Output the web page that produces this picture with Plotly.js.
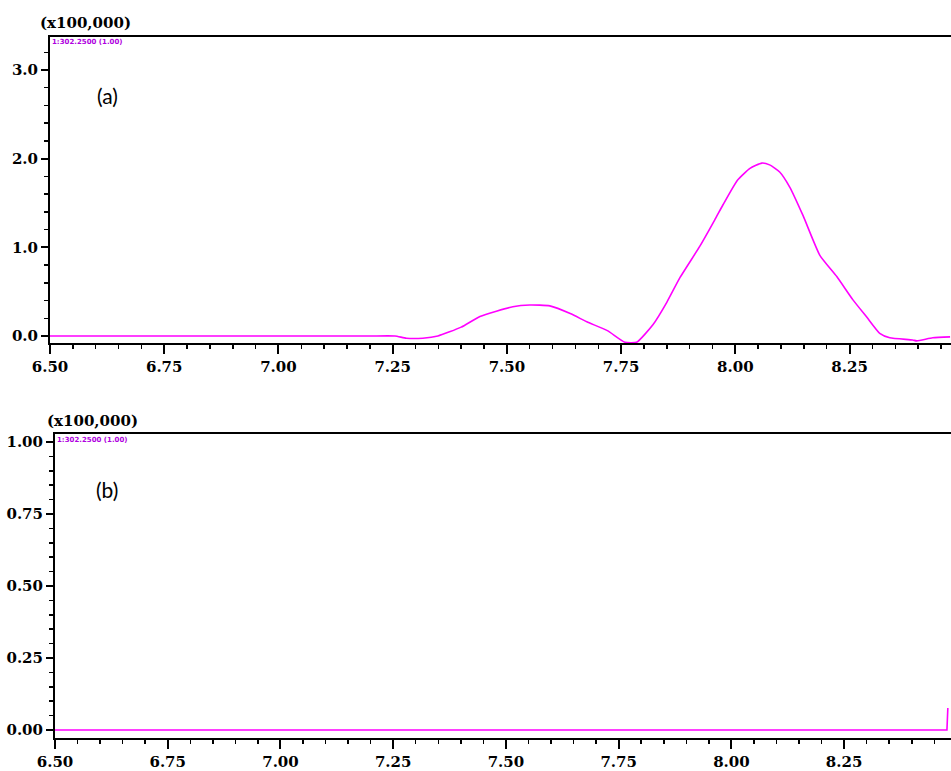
<!DOCTYPE html>
<html>
<head>
<meta charset="utf-8">
<script src="https://cdn.plot.ly/plotly-3.0.1.min.js"></script>
<style>html,body{margin:0;padding:0;background:#fff;}#chart{width:951px;height:771px;}</style>
</head>
<body>
<div id="chart"></div>
<script>
// Panel (a) trace: retention time (min) vs intensity (x100,000)
const timeA = [6.50, 7.00, 7.20, 7.255, 7.28, 7.316, 7.349, 7.40, 7.441, 7.513, 7.55, 7.594, 7.64, 7.675, 7.72, 7.758, 7.784, 7.82, 7.85, 7.879, 7.922, 7.955, 7.973, 8.005, 8.032, 8.058, 8.075, 8.097, 8.119, 8.148, 8.185, 8.222, 8.257, 8.288, 8.316, 8.338, 8.388, 8.397, 8.432, 8.47];
const intA  = [0.00, 0.00, 0.00, 0.00, -0.025, -0.025, 0.00, 0.10, 0.22, 0.33, 0.35, 0.34, 0.25, 0.16, 0.06, -0.07, -0.07, 0.13, 0.38, 0.66, 1.01, 1.31, 1.48, 1.76, 1.89, 1.95, 1.93, 1.85, 1.68, 1.36, 0.91, 0.67, 0.41, 0.21, 0.03, -0.02, -0.045, -0.055, -0.02, -0.01];
// Panel (b) trace
const timeB = [6.50, 7.00, 7.50, 8.00, 8.478, 8.48];
const intB  = [0.00, 0.00, 0.00, 0.00, 0.00, 0.076];

const xTicks = [6.50, 6.75, 7.00, 7.25, 7.50, 7.75, 8.00, 8.25];
const xTickText = ["6.50", "6.75", "7.00", "7.25", "7.50", "7.75", "8.00", "8.25"];
const yTicksA = [0, 1, 2, 3];
const yTickTextA = ["0.0", "1.0", "2.0", "3.0"];
const yTicksB = [0, 0.25, 0.5, 0.75, 1.0];
const yTickTextB = ["0.00", "0.25", "0.50", "0.75", "1.00"];
const scaleLabel = "(x100,000)";
const traceLabel = "1:302.2500 (1.00)";
const panelLabels = ["(a)", "(b)"];

const W = 951, H = 771;
const tickFont = {family: "DejaVu Serif", size: 15, color: "#000", weight: "bold"};

function xaxisDef(domL, rng) {
  return {
    domain: [domL / W, 1], range: rng, showgrid: false, zeroline: false,
    showline: true, linecolor: "#000", linewidth: 2, mirror: true,
    ticks: "outside", ticklen: 9, tickwidth: 2, tickcolor: "#000",
    tickvals: xTicks, ticktext: xTickText, tickfont: tickFont,
    minor: {dtick: 0.05, ticks: "outside", ticklen: 4, tickwidth: 1.5, tickcolor: "#000", showgrid: false},
    automargin: false, fixedrange: true
  };
}
function yaxisDef(bottomPx, topPx, rng, vals, txt, minorD) {
  return {
    domain: [(H - bottomPx) / H, (H - topPx) / H], range: rng, showgrid: false, zeroline: false,
    showline: true, linecolor: "#000", linewidth: 2,
    ticks: "outside", ticklen: 7, tickwidth: 2, tickcolor: "#000",
    tickvals: vals, ticktext: txt, tickfont: tickFont,
    minor: {dtick: minorD, ticks: "outside", ticklen: 4, tickwidth: 1.5, tickcolor: "#000", showgrid: false},
    automargin: false, fixedrange: true
  };
}

const data = [
  {x: timeA, y: intA, type: "scatter", mode: "lines", line: {color: "#ff00ff", width: 1.6, shape: "spline", smoothing: 0.5}, xaxis: "x", yaxis: "y", hoverinfo: "skip"},
  {x: timeB, y: intB, type: "scatter", mode: "lines", line: {color: "#ff00ff", width: 1.6}, xaxis: "x2", yaxis: "y2", hoverinfo: "skip"}
];

const labFont = {family: "DejaVu Serif", size: 15, color: "#000", weight: "bold"};
const tinyFont = {family: "DejaVu Sans", size: 7, color: "#b000e0", weight: "bold"};
const panFont = {family: "Lato", size: 21, color: "#000"};

const layout = {
  width: W, height: H, margin: {l: 0, r: 0, t: 0, b: 0},
  paper_bgcolor: "#fff", plot_bgcolor: "#fff", showlegend: false,
  xaxis: xaxisDef(50, [6.5, 8.472]),
  yaxis: yaxisDef(343, 37, [-0.079, 3.372], yTicksA, yTickTextA, 0.2),
  xaxis2: Object.assign(xaxisDef(55, [6.5, 8.487]), {anchor: "y2"}),
  yaxis2: Object.assign(yaxisDef(738, 434, [-0.028, 1.028], yTicksB, yTickTextB, 0.05), {anchor: "x2"}),
  annotations: [
    {text: scaleLabel, xref: "paper", yref: "paper", x: 38 / W, y: (H - 23) / H, xanchor: "left", yanchor: "middle", showarrow: false, font: labFont},
    {text: traceLabel, xref: "paper", yref: "paper", x: 50 / W, y: (H - 42) / H, xanchor: "left", yanchor: "middle", showarrow: false, font: tinyFont},
    {text: panelLabels[0], xref: "paper", yref: "paper", x: 107 / W, y: (H - 95) / H, xanchor: "center", yanchor: "middle", showarrow: false, font: panFont},
    {text: scaleLabel, xref: "paper", yref: "paper", x: 45 / W, y: (H - 421) / H, xanchor: "left", yanchor: "middle", showarrow: false, font: labFont},
    {text: traceLabel, xref: "paper", yref: "paper", x: 55 / W, y: (H - 440) / H, xanchor: "left", yanchor: "middle", showarrow: false, font: tinyFont},
    {text: panelLabels[1], xref: "paper", yref: "paper", x: 107 / W, y: (H - 490) / H, xanchor: "center", yanchor: "middle", showarrow: false, font: panFont}
  ]
};

Plotly.newPlot("chart", data, layout, {staticPlot: true, displayModeBar: false});
</script>
</body>
</html>
